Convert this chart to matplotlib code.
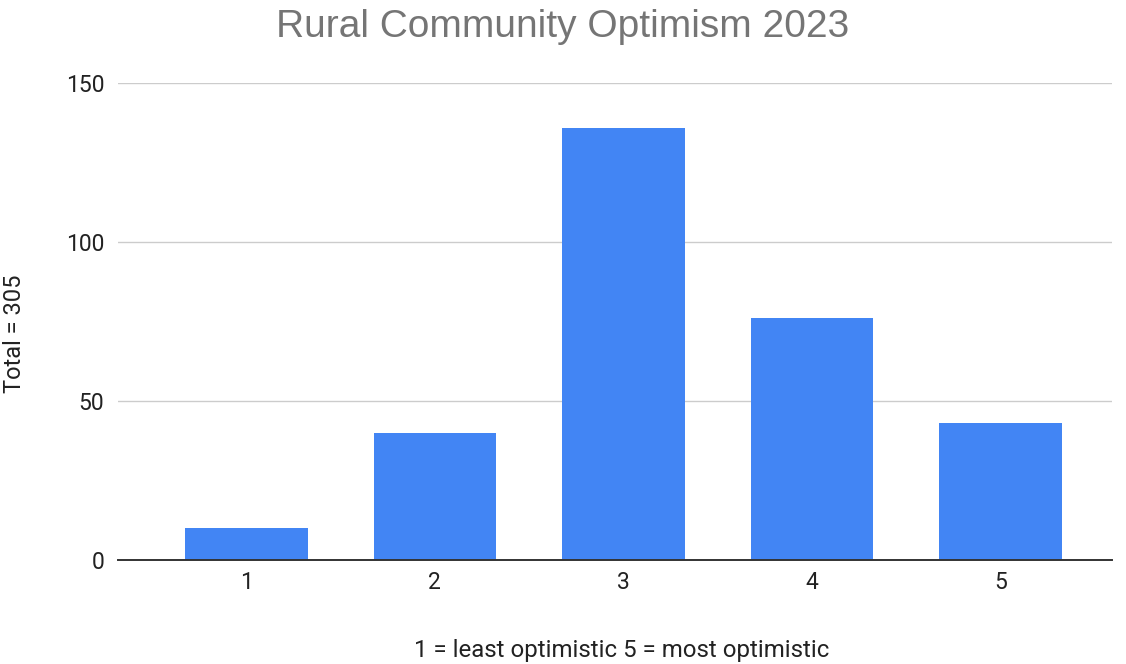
import matplotlib
matplotlib.use("Agg")
import matplotlib.pyplot as plt

categories = ["1", "2", "3", "4", "5"]
values = [10, 40, 136, 76, 43]
yticks = [0, 50, 100, 150]

plt.rcParams['font.family'] = ['Roboto', 'DejaVu Sans']

W, H = 1126, 664
fig = plt.figure(figsize=(W/100, H/100), dpi=100)
ax = fig.add_axes([118/W, 1-560/H, (1112-118)/W, (560-83)/H])

x = list(range(len(categories)))
ax.bar(x, values, width=0.65, color="#4285F4", zorder=3)

ax.set_xlim(-0.68, 4.59)
ax.set_ylim(0, 150)
ax.set_yticks(yticks)
ax.set_yticklabels([str(v) for v in yticks])
ax.set_xticks(x)
ax.set_xticklabels(categories)
ax.grid(axis='y', color="#cccccc", linewidth=1, zorder=0)
for s in ['top', 'right', 'left']:
    ax.spines[s].set_visible(False)
ax.spines['bottom'].set_color("#333333")
ax.spines['bottom'].set_linewidth(1.4)
ax.spines['bottom'].set_zorder(4)
ax.tick_params(axis='both', length=0, labelsize=16.5, colors="#222222")
ax.tick_params(axis='x', pad=8)
ax.tick_params(axis='y', pad=10)

fig.text(0.5, 1-37/H, "Rural Community Optimism 2023", fontsize=28, color="#757575",
         ha='center', va='baseline', family=['Liberation Sans', 'DejaVu Sans'])
fig.text(622/W, 1-657/H, "1 = least optimistic 5 = most optimistic", fontsize=17.3,
         color="#222222", ha='center', va='baseline')
fig.text(15/W, 1-334/H, "Total = 305", fontsize=17, color="#222222",
         ha='center', va='center', rotation=90)

fig.savefig("out.png", dpi=100, facecolor="white")
